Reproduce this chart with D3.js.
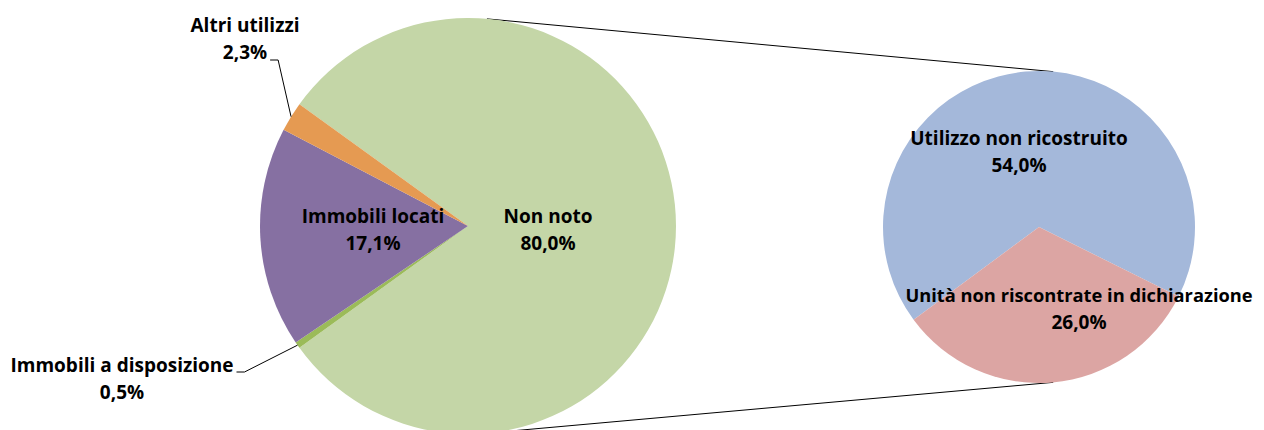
<!DOCTYPE html>
<html><head><meta charset="utf-8">
<script src="https://cdn.jsdelivr.net/npm/d3@7"></script>
<style>html,body{margin:0;padding:0;background:#fff;}svg{display:block;}</style>
</head><body>
<svg id="chart" width="1264" height="430"></svg>
<script>
// ---- data ----
const mainCategories = ["Non noto", "Immobili a disposizione", "Immobili locati", "Altri utilizzi"];
const mainValues = [80.0, 0.5, 17.1, 2.3];
const subCategories = ["Utilizzo non ricostruito", "Unità non riscontrate in dichiarazione"];
const subValues = [54.0, 26.0];

// ---- layout / style ----
const W = 1264, H = 430;
const mainColors = ["#C4D6A7", "#9BBB59", "#8670A2", "#E59A52"];
const subColors = ["#A4B8DA", "#DCA5A3"];
const FONT = "'Open Sans', sans-serif";
const FS = 19, LH = 27;

const svg = d3.select("#chart");
const deg = Math.PI / 180;

// position scales (center / radius of each pie)
const xPos = d3.scaleLinear().domain([0, 1]).range([468, 1039]);
const yPos = d3.scaleLinear().domain([0, 1]).range([226, 227]);
const rScale = d3.scaleSqrt().domain([0, 100]).range([0, 208]);

const c1 = [xPos(0), yPos(0)], r1 = rScale(100);
const c2 = [xPos(1), yPos(1)], r2 = 156;

const mainTotal = d3.sum(mainValues);
const nonNotoSpan = mainValues[0] / mainTotal * 2 * Math.PI;
const pie1 = d3.pie().sort(null).value(d => d)
  .startAngle(Math.PI / 2 - nonNotoSpan / 2)
  .endAngle(Math.PI / 2 - nonNotoSpan / 2 + 2 * Math.PI);
const subStart = -126.5 * deg;
const pie2 = d3.pie().sort(null).value(d => d)
  .startAngle(subStart).endAngle(subStart + 2 * Math.PI);

const arc1 = d3.arc().innerRadius(0).outerRadius(r1);
const arc2 = d3.arc().innerRadius(0).outerRadius(r2);

// connector lines (external tangents)
const d = c2[0] - c1[0];
const th = Math.asin((r1 - r2) / d);
function pt(c, r, a) { return [c[0] + r * Math.sin(a), c[1] - r * Math.cos(a)]; }
const g0 = svg.append("g");
[th, Math.PI - th].forEach(a => {
  const p1 = pt(c1, r1, a), p2 = pt(c2, r2, a);
  g0.append("line").attr("x1", p1[0]).attr("y1", p1[1]).attr("x2", p2[0]).attr("y2", p2[1])
    .attr("stroke", "#000").attr("stroke-width", 1);
});

const arcs1 = pie1(mainValues);
svg.append("g").attr("transform", `translate(${c1})`)
  .selectAll("path").data(arcs1).join("path")
  .attr("d", arc1).attr("fill", (d, i) => mainColors[i]);

const arcs2 = pie2(subValues);
svg.append("g").attr("transform", `translate(${c2})`)
  .selectAll("path").data(arcs2).join("path")
  .attr("d", arc2).attr("fill", (d, i) => subColors[i]);

const fmt = v => v.toFixed(1).replace(".", ",") + "%";

function label(x, y, name, val, nameSize) {
  const t = svg.append("g").attr("font-family", FONT).attr("font-weight", 700)
    .attr("font-size", FS).attr("fill", "#000").attr("text-anchor", "middle");
  const n = t.append("text").attr("x", x).attr("y", y).text(name);
  if (nameSize) n.attr("font-size", nameSize);
  const v = t.append("text").attr("x", x).attr("y", y + LH).text(val);
  return { n, v };
}

// label anchors (offset from pie center)
const mainLabelOffsets = [[80, -3], null, [-95, -3], null];
arcs1.forEach((a, i) => {
  if (mainLabelOffsets[i]) {
    label(c1[0] + mainLabelOffsets[i][0], c1[1] + mainLabelOffsets[i][1], mainCategories[i], fmt(mainValues[i]));
  }
});
const subLabelOffsets = [[-20, -82], [40, 75]];
const subLabelSizes = [null, 18.3];
arcs2.forEach((a, i) => {
  label(c2[0] + subLabelOffsets[i][0], c2[1] + subLabelOffsets[i][1], subCategories[i], fmt(subValues[i]), subLabelSizes[i]);
});

// outside labels with leader lines
const outside = [
  { i: 3, x: 245, y: 32, fromValue: true },
  { i: 1, x: 122, y: 372, fromValue: false }
];
outside.forEach(o => {
  const lb = label(o.x, o.y, mainCategories[o.i], fmt(mainValues[o.i]));
  const a = arcs1[o.i];
  const mid = (a.startAngle + a.endAngle) / 2;
  const end = pt(c1, r1, mid);
  const bb = (o.fromValue ? lb.v : lb.n).node().getBBox();
  const sx = bb.x + bb.width + 3;
  const sy = o.fromValue ? o.y + LH + 1 : o.y;
  svg.append("path")
    .attr("d", d3.line()([[sx, sy], [sx + 8, sy], end]))
    .attr("fill", "none").attr("stroke", "#000").attr("stroke-width", 1);
});
</script>
</body></html>
